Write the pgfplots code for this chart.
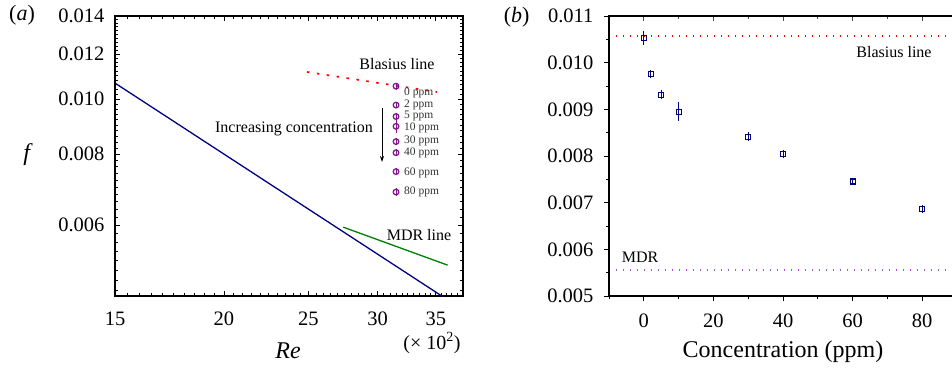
\documentclass[border=0pt]{standalone}
\usepackage{pgfplots}
\pgfplotsset{compat=1.18}
\usepackage{fontspec}
\setmainfont{Liberation Serif}
\usetikzlibrary{arrows.meta}
\definecolor{navyc}{RGB}{0,0,128}
\definecolor{greenc}{RGB}{0,128,0}
\definecolor{purplec}{RGB}{130,20,140}
\definecolor{orchidc}{RGB}{180,80,205}
\newcommand{\fs}[1]{\fontsize{#1}{#1}\selectfont}
\newcommand{\tr}[1]{\textrm{#1}}
\begin{document}
\begin{tikzpicture}[x=1pt,y=1pt]
% ---------------- panel (a) ----------------
\begin{axis}[
  at={(115pt,-16pt)}, anchor=north west, scale only axis,
  width=348pt, height=280pt,
  xmode=log, ymode=log,
  xmin=15, xmax=37.6, ymin=0.0045, ymax=0.014,
  xtick={15,20,25,30,35}, xticklabels={\tr{15},\tr{20},\tr{25},\tr{30},\tr{35}},
  ytick={0.006,0.008,0.010,0.012,0.014},
  yticklabels={\tr{0.006},\tr{0.008},\tr{0.010},\tr{0.012},\tr{0.014}},
  minor xtick={15.5,16,16.5,17,17.5,18,18.5,19,19.5,20.5,21,21.5,22,22.5,23,23.5,24,24.5,25.5,26,26.5,27,27.5,28,28.5,29,29.5,30.5,31,31.5,32,32.5,33,33.5,34,34.5,35.5,36,36.5,37,37.5},
  minor ytick={0.0046,0.0048,0.005,0.0052,0.0054,0.0056,0.0058,0.0062,0.0064,0.0066,0.0068,0.007,0.0072,0.0074,0.0076,0.0078,0.0082,0.0084,0.0086,0.0088,0.009,0.0092,0.0094,0.0096,0.0098,0.0102,0.0104,0.0106,0.0108,0.011,0.0112,0.0114,0.0116,0.0118,0.0122,0.0124,0.0126,0.0128,0.013,0.0132,0.0134,0.0136,0.0138},
  tick align=inside, major tick length=5pt, minor tick length=3pt,
  every tick/.style={black, line width=0.8pt},
  axis line style={line width=1.2pt},
  ticklabel style={font=\fs{20.5}},
  xticklabel style={yshift=-12pt},
  yticklabel style={xshift=-7pt},
  clip=true,
]
\addplot[navyc, line width=1.3pt] coordinates {(15,0.010667) (20,0.008) (25,0.0064) (30,0.005333) (35,0.004571) (37.6,0.004255)};
\addplot[greenc, line width=1.3pt] coordinates {(27.4,0.00595) (36.1,0.0051)};
\addplot[red, line width=1.7pt, dash pattern=on 2.5pt off 7.5pt] coordinates {(24.9,0.01116) (35.1,0.01029)};
\addplot[purplec, only marks, mark=o, mark size=2.8pt, line width=1.3pt,
  error bars/.cd, y dir=both, y explicit,
  error bar style={line width=1pt},
  error mark options={mark size=2.4pt, line width=1pt}]
  coordinates {
  (31.5,0.010535) +- (0,0.00004)
  (31.5,0.009758) +- (0,0.00004)
  (31.5,0.009315) +- (0,0.00004)
  (31.5,0.008951) +- (0,0.00016)
  (31.5,0.008415) +- (0,0.00004)
  (31.5,0.008045) +- (0,0.00004)
  (31.5,0.007452) +- (0,0.00004)
  (31.5,0.006860) +- (0,0.00004)
  };
\end{axis}
% labels of panel (a)
\node at (22,-15) {\fs{22}(\textit{a})};
\node at (28,-155) {\fs{24}\textit{f}};
\node at (288,-351) {\fs{24}\textit{Re}};
\node at (432,-343) {\fs{20}(\texttimes\ 10\textsuperscript{2})};
\node at (397,-64) {\fs{16}Blasius line};
\node at (294,-129) {\fs{16}Increasing concentration};
\node at (419,-235) {\fs{16}MDR line};
\draw[-{Stealth[length=6pt,width=4pt]}, line width=0.8pt] (382,-108) -- (382,-162);
\begin{scope}[every node/.style={anchor=west, inner sep=0pt, font=\fs{11.5}, text=black!80}]
\node at (404,-92.7) {0 ppm};
\node at (404,-105) {2 ppm};
\node at (404,-116) {5 ppm};
\node at (404,-127.7) {10 ppm};
\node at (404,-141) {30 ppm};
\node at (404,-153) {40 ppm};
\node at (404,-172.7) {60 ppm};
\node at (404,-192) {80 ppm};
\end{scope}
% ---------------- panel (b) ----------------
\begin{axis}[
  at={(609pt,-16pt)}, anchor=north west, scale only axis,
  width=348pt, height=280pt,
  xmin=-10, xmax=90, ymin=0.005, ymax=0.011,
  scaled ticks=false,
  xtick={0,20,40,60,80}, xticklabels={\tr{0},\tr{20},\tr{40},\tr{60},\tr{80}},
  minor xtick={-10,10,30,50,70,90},
  ytick={0.005,0.006,0.007,0.008,0.009,0.010,0.011},
  yticklabels={\tr{0.005},\tr{0.006},\tr{0.007},\tr{0.008},\tr{0.009},\tr{0.010},\tr{0.011}},
  minor ytick={0.0055,0.0065,0.0075,0.0085,0.0095,0.0105},
  tick align=outside, xtick pos=left, ytick pos=left,
  major tick length=5pt, minor tick length=3pt,
  every tick/.style={black, line width=0.8pt},
  axis line style={line width=1.2pt},
  ticklabel style={font=\fs{20.5}},
  xticklabel style={yshift=-9pt},
  yticklabel style={xshift=-7pt},
  clip=true,
]
\addplot[red, line width=1.3pt, dash pattern=on 1.3pt off 5.7pt] coordinates {(-10,0.01057) (90,0.01057)};
\addplot[orchidc, line width=1.3pt, dash pattern=on 1.3pt off 5.7pt] coordinates {(-10,0.00556) (90,0.00556)};
\addplot[navyc, only marks, mark=square, mark size=2.5pt, line width=1.2pt,
  error bars/.cd, y dir=both, y explicit,
  error bar style={line width=0.9pt},
  error mark options={mark size=2.5pt, line width=0.9pt}]
  coordinates {
  (0,0.010535) +- (0,0.0001)
  (2,0.009758) +- (0,0.00004)
  (5,0.009315) +- (0,0.00004)
  (10,0.008951) +- (0,0.000157)
  (30,0.008415) +- (0,0.00004)
  (40,0.008045) +- (0,0.00004)
  (60,0.007452) +- (0,0.00003)
  (80,0.006860) +- (0,0.00003)
  };
\end{axis}
\begin{axis}[
  at={(609pt,-16pt)}, anchor=north west, scale only axis,
  width=348pt, height=280pt,
  xmin=-10, xmax=90, ymin=0.005, ymax=0.011,
  scaled ticks=false,
  xtick={0,20,40,60,80}, xticklabel=\empty,
  minor xtick={-10,10,30,50,70,90},
  ytick={0.005,0.006,0.007,0.008,0.009,0.010,0.011}, yticklabel=\empty,
  minor ytick={0.0055,0.0065,0.0075,0.0085,0.0095,0.0105},
  tick align=inside, xtick pos=right, ytick pos=right,
  major tick length=5pt, minor tick length=3pt,
  every tick/.style={black!70, line width=0.8pt},
  axis line style={line width=1.2pt},
]
\end{axis}
\node at (516.7,-17) {\fs{22}(\textit{b})};
\node at (894,-52) {\fs{16}Blasius line};
\node at (640,-257) {\fs{16}MDR};
\node at (783,-352) {\fs{24}Concentration (ppm)};
\pgfresetboundingbox
\useasboundingbox (0,0) rectangle (952,-367);
\end{tikzpicture}
\end{document}
